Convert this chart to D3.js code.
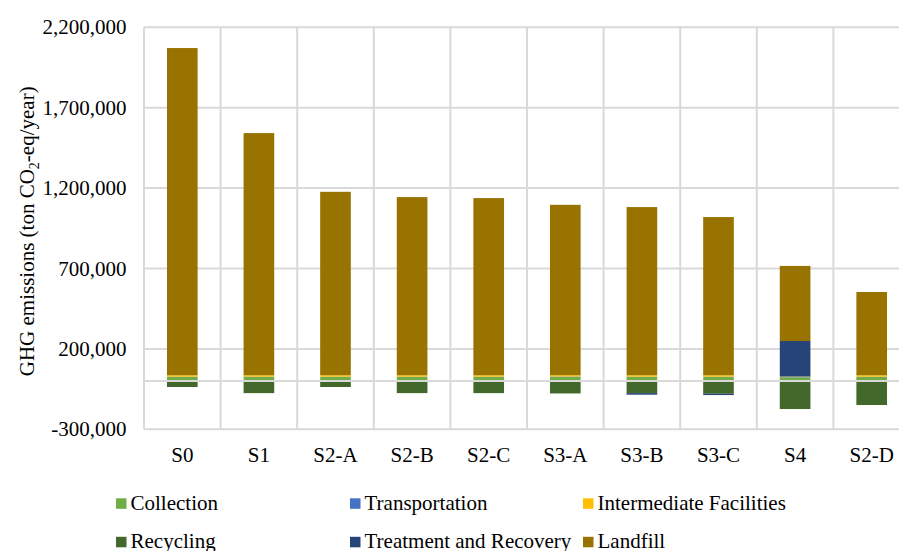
<!DOCTYPE html>
<html>
<head>
<meta charset="utf-8">
<script src="https://cdn.jsdelivr.net/npm/d3@7"></script>
<style>
  html, body { margin: 0; padding: 0; background: #fff; }
  svg { display: block; font-family: "Liberation Serif", "Times New Roman", serif; }
</style>
</head>
<body>
<svg id="chart" width="899" height="551"></svg>
<script>
// Scenario categories and per-stage GHG emissions (ton CO2-eq/year)
const categories = ["S0", "S1", "S2-A", "S2-B", "S2-C", "S3-A", "S3-B", "S3-C", "S4", "S2-D"];
const collection = [25000, 25000, 25000, 25000, 25000, 25000, 25000, 25000, 23000, 25000];
const transportation = [2000, 2000, 2000, 2000, 2000, 3000, 2000, 2000, 2000, 2000];
const intermediate = [9000, 9000, 9000, 9000, 9000, 9000, 9000, 9000, 3000, 9000];
const recycling = [-37000, -75000, -37000, -75000, -75000, -77000, -75000, -79000, -174000, -149000];
const treatment = [0, 0, 0, 0, 0, 1000, -10000, -8000, 221000, 0];
const landfill = [2035000, 1506000, 1141000, 1108000, 1102000, 1058000, 1046000, 984000, 467000, 518000];
const yTicks = [-300000, 200000, 700000, 1200000, 1700000, 2200000];

const seriesNames = ["Collection", "Transportation", "Intermediate Facilities", "Recycling", "Treatment and Recovery", "Landfill"];
const seriesValues = [collection, transportation, intermediate, recycling, treatment, landfill];
const colors = ["#70ad47", "#4472c4", "#ffc000", "#43682b", "#264478", "#997300"];

const rows = categories.map((c, i) => {
  const r = { category: c };
  seriesNames.forEach((s, j) => { r[s] = seriesValues[j][i]; });
  return r;
});

const svg = d3.select("#chart");
const plot = { left: 144, right: 910, top: 27.3, bottom: 429.3 };

const x = d3.scaleBand().domain(categories).range([plot.left, plot.right]).padding(0);
const y = d3.scaleLinear().domain([-300000, 2200000]).range([plot.bottom, plot.top]);
const barW = x.bandwidth() * 0.4;

const grid = "#d9d9d9";

// Horizontal gridlines
svg.append("g").selectAll("line").data(yTicks).join("line")
  .attr("x1", plot.left).attr("x2", plot.right)
  .attr("y1", d => y(d)).attr("y2", d => y(d))
  .attr("stroke", grid).attr("stroke-width", 2);

// Vertical gridlines between categories
const vlines = categories.map(c => x(c)).concat([plot.right]);
svg.append("g").selectAll("line").data(vlines).join("line")
  .attr("x1", d => d).attr("x2", d => d)
  .attr("y1", plot.top).attr("y2", plot.bottom)
  .attr("stroke", grid).attr("stroke-width", 2);

// Stacked bars, negatives stacked downward from zero
const stack = d3.stack().keys(seriesNames).offset(d3.stackOffsetDiverging);
const stacked = stack(rows);

svg.append("g").selectAll("g").data(stacked).join("g")
  .attr("fill", (d, i) => colors[i])
  .selectAll("rect").data(d => d).join("rect")
  .attr("x", d => x(d.data.category) + (x.bandwidth() - barW) / 2)
  .attr("width", barW)
  .attr("y", d => y(Math.max(d[0], d[1])))
  .attr("height", d => Math.abs(y(d[0]) - y(d[1])));

// Category axis line at zero
svg.append("line")
  .attr("x1", plot.left).attr("x2", plot.right)
  .attr("y1", y(0)).attr("y2", y(0))
  .attr("stroke", grid).attr("stroke-width", 2);

// Y axis tick labels (plain hyphen for negatives)
const fmt = d3.formatLocale({ decimal: ".", thousands: ",", grouping: [3], currency: ["", ""], minus: "-" }).format(",");
svg.append("g").selectAll("text").data(yTicks).join("text")
  .attr("x", 126.5).attr("y", d => y(d) + 7)
  .attr("text-anchor", "end")
  .attr("font-size", 21).attr("fill", "#000")
  .text(d => fmt(d));

// Category labels
svg.append("g").selectAll("text").data(categories).join("text")
  .attr("x", d => x(d) + x.bandwidth() / 2).attr("y", 462)
  .attr("text-anchor", "middle")
  .attr("font-size", 21).attr("fill", "#000")
  .text(d => d);

// Y axis title with subscript
const title = svg.append("text")
  .attr("transform", `translate(34, ${(plot.top + plot.bottom) / 2 + 3}) rotate(-90)`)
  .attr("text-anchor", "middle")
  .attr("font-size", 21).attr("fill", "#000");
title.append("tspan").text("GHG emissions (ton CO");
title.append("tspan").attr("font-size", 14).attr("dy", 5).text("2");
title.append("tspan").attr("dy", -5).text("-eq/year)");

// Legend
const legendPos = [
  [116, 498.3], [350, 498.3], [583, 498.3],
  [116, 536.8], [350, 536.8], [583, 536.8]
];
const legend = svg.append("g").selectAll("g").data(seriesNames).join("g")
  .attr("transform", (d, i) => `translate(${legendPos[i][0]}, ${legendPos[i][1]})`);
legend.append("rect").attr("width", 10.5).attr("height", 10.5)
  .attr("fill", (d, i) => colors[i]);
legend.append("text").attr("x", 14.5).attr("y", 11.5)
  .attr("font-size", 21).attr("fill", "#000")
  .text(d => d);
</script>
</body>
</html>
